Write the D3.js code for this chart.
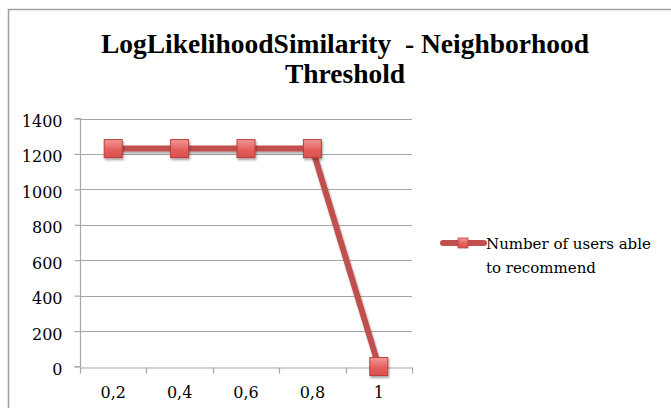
<!DOCTYPE html>
<html>
<head>
<meta charset="utf-8">
<script src="https://cdn.jsdelivr.net/npm/d3@7"></script>
<style>
  html, body { margin: 0; padding: 0; background: #fff; }
  svg { display: block; }
  text { white-space: pre; }
</style>
</head>
<body>
<div id="chart"></div>
<script>
const categories = ["0,2", "0,4", "0,6", "0,8", "1"];
const usersAbleToRecommend = [1230, 1230, 1230, 1230, 0];
const yTicks = [0, 200, 400, 600, 800, 1000, 1200, 1400];
const titleLines = ["LogLikelihoodSimilarity  - Neighborhood", "Threshold"];
const legendLines = ["Number of users able", "to recommend"];

const W = 671, H = 408;
const titleFont = "'Liberation Serif', 'DejaVu Serif', serif";
const font = "'DejaVu Serif', 'Liberation Serif', serif";
const lineColor = "#C0504D";
const gridColor = "#A6A6A6";

const svg = d3.select("#chart").append("svg").attr("width", W).attr("height", H);

const defs = svg.append("defs");
const grad = defs.append("linearGradient").attr("id", "mk").attr("x1", 0).attr("y1", 0).attr("x2", 0).attr("y2", 1);
grad.append("stop").attr("offset", "0%").attr("stop-color", "#F49896");
grad.append("stop").attr("offset", "55%").attr("stop-color", "#E4605D");
grad.append("stop").attr("offset", "100%").attr("stop-color", "#D94F4C");
const sh = defs.append("filter").attr("id", "shadow").attr("x", "-50%").attr("y", "-50%").attr("width", "200%").attr("height", "200%");
sh.append("feDropShadow").attr("dx", 1).attr("dy", 2).attr("stdDeviation", 1.2).attr("flood-color", "#000").attr("flood-opacity", 0.35);

// frame
svg.append("rect").attr("x", 8.5).attr("y", 9.5).attr("width", W + 20).attr("height", H + 20)
  .attr("fill", "#fff").attr("stroke", "#A0A0A0").attr("stroke-width", 1.5);

// title
const title = svg.append("text").attr("text-anchor", "middle")
  .attr("font-family", titleFont).attr("font-weight", "bold").attr("font-size", 27.5).attr("fill", "#000");
titleLines.forEach((t, i) => {
  title.append("tspan").attr("x", 345).attr("y", 53 + i * 30).text(t);
});

const x = d3.scaleBand().domain(categories).range([80, 412]);
const y = d3.scaleLinear().domain([0, 1400]).range([366.5, 118.5]);

// gridlines
svg.append("g").selectAll("line").data(yTicks.filter(d => d > 0)).join("line")
  .attr("x1", 80).attr("x2", 412)
  .attr("y1", d => Math.round(y(d)) + 0.5).attr("y2", d => Math.round(y(d)) + 0.5)
  .attr("stroke", gridColor).attr("stroke-width", 1.2);

// y axis
const yAxis = svg.append("g").attr("transform", "translate(80.5,0)")
  .call(d3.axisLeft(y).tickValues(yTicks).tickSize(6).tickPadding(12).tickFormat(d3.format("d")));
yAxis.select(".domain").attr("stroke", gridColor).attr("stroke-width", 1.2).attr("d", `M-6,${y(0)}H0V${y(1400)}H-6`);
yAxis.selectAll(".tick line").attr("stroke", gridColor).attr("stroke-width", 1.2);
yAxis.selectAll(".tick text").attr("font-family", font).attr("font-size", 16).attr("fill", "#000").attr("dy", "0.5em");

// x axis
const xAxis = svg.append("g").attr("transform", `translate(0,${Math.round(y(0)) + 0.5})`)
  .call(d3.axisBottom(x).tickSize(0).tickPadding(19));
xAxis.select(".domain").attr("stroke", gridColor).attr("stroke-width", 1.2);
xAxis.selectAll(".tick text").attr("font-family", font).attr("font-size", 16).attr("fill", "#000");
const edges = categories.map(c => x(c)).concat([x.range()[1]]);
xAxis.selectAll(".edge").data(edges).join("line").attr("class", "edge")
  .attr("x1", d => Math.round(d) + 0.5).attr("x2", d => Math.round(d) + 0.5)
  .attr("y1", 0).attr("y2", 6).attr("stroke", gridColor).attr("stroke-width", 1.2);

// line
const pts = categories.map((c, i) => [x(c) + x.bandwidth() / 2, y(usersAbleToRecommend[i])]);
svg.append("path").datum(pts).attr("d", d3.line())
  .attr("fill", "none").attr("stroke", lineColor).attr("stroke-width", 6)
  .attr("stroke-linejoin", "round").attr("filter", "url(#shadow)");

// markers
const ms = 18;
svg.append("g").selectAll("rect").data(pts).join("rect")
  .attr("x", d => d[0] - ms / 2).attr("y", d => d[1] - ms / 2)
  .attr("width", ms).attr("height", ms)
  .attr("fill", "url(#mk)").attr("stroke", "#B9403D").attr("stroke-width", 1)
  .attr("filter", "url(#shadow)");

// legend
const lg = svg.append("g");
lg.append("line").attr("x1", 443).attr("x2", 484).attr("y1", 243).attr("y2", 243)
  .attr("stroke", lineColor).attr("stroke-width", 6).attr("stroke-linecap", "round");
lg.append("rect").attr("x", 458).attr("y", 238).attr("width", 10).attr("height", 10)
  .attr("fill", "url(#mk)").attr("stroke", "#B9403D").attr("stroke-width", 0.8);
const lt = lg.append("text").attr("font-family", font).attr("font-size", 15).attr("fill", "#000");
legendLines.forEach((t, i) => {
  lt.append("tspan").attr("x", 486).attr("y", 249 + i * 23.5).text(t);
});
</script>
</body>
</html>
